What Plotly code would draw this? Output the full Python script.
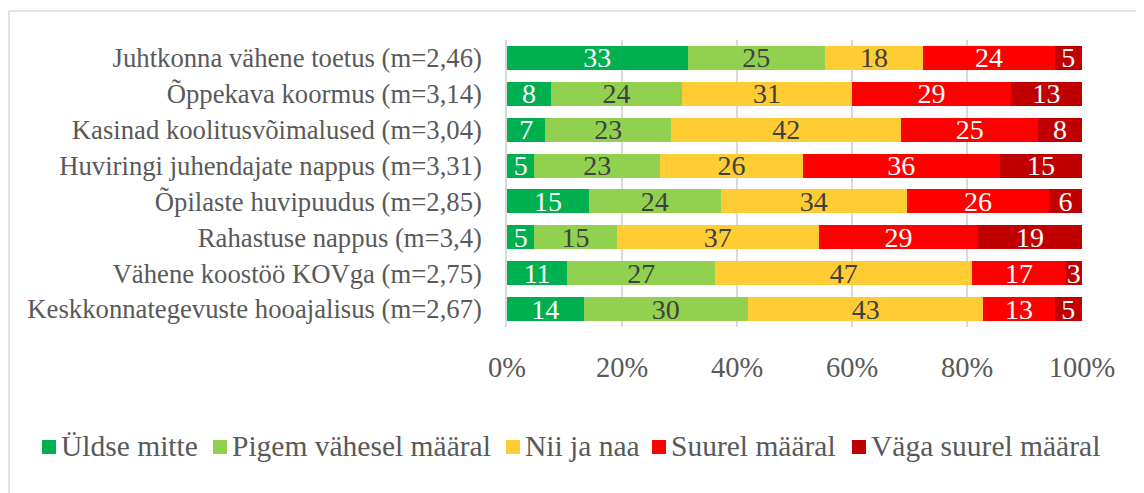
import plotly.graph_objects as go

categories = [
    "Juhtkonna vähene toetus (m=2,46)",
    "Õppekava koormus (m=3,14)",
    "Kasinad koolitusvõimalused (m=3,04)",
    "Huviringi juhendajate nappus (m=3,31)",
    "Õpilaste huvipuudus (m=2,85)",
    "Rahastuse nappus (m=3,4)",
    "Vähene koostöö KOVga (m=2,75)",
    "Keskkonnategevuste hooajalisus (m=2,67)",
]
series_names = ["Üldse mitte", "Pigem vähesel määral", "Nii ja naa", "Suurel määral", "Väga suurel määral"]
uldse_mitte = [33, 8, 7, 5, 15, 5, 11, 14]
pigem_vahesel = [25, 24, 23, 23, 24, 15, 27, 30]
nii_ja_naa = [18, 31, 42, 26, 34, 37, 47, 43]
suurel = [24, 29, 25, 36, 26, 29, 17, 13]
vaga_suurel = [5, 13, 8, 15, 6, 19, 3, 5]
tick_vals = [0, 20, 40, 60, 80, 100]
tick_text = ["0%", "20%", "40%", "60%", "80%", "100%"]

series_values = [uldse_mitte, pigem_vahesel, nii_ja_naa, suurel, vaga_suurel]
colors = ["#00B050", "#92D050", "#FFCC33", "#FF0000", "#C00000"]
text_colors = ["#FFFFFF", "#404040", "#404040", "#FFFFFF", "#FFFFFF"]

FONT = "Liberation Serif"

fig = go.Figure()
for name, vals, col, tcol in zip(series_names, series_values, colors, text_colors):
    fig.add_trace(go.Bar(
        y=categories, x=vals, name=name, orientation="h",
        marker=dict(color=col, line=dict(width=0)),
        text=[str(v) for v in vals], texttemplate="%{text}",
        textposition="inside", insidetextanchor="middle",
        constraintext="none", textangle=0,
        textfont=dict(family=FONT, size=28, color=tcol),
        hoverinfo="skip", showlegend=False,
    ))

OFF = 8  # page body margin
W, H = 1144 - OFF, 493 - OFF
L, T = 507 - OFF, 40 - OFF
R = W - (1082 - OFF)
B = H - (327 - OFF)
pw = W - L - R
ph = H - T - B


def px_x(x):
    return (x - OFF - L) / pw


def px_y(y):
    return (H - B - (y - OFF)) / ph


shapes = [dict(
    type="rect", xref="paper", yref="paper",
    x0=px_x(9), x1=px_x(1144 + 20), y0=px_y(493 + 20), y1=px_y(11),
    line=dict(color="#D9D9D9", width=1.5), fillcolor="rgba(0,0,0,0)",
    layer="below",
)]
annotations = []
# custom legend (marker square + label), laid out like the reference
legend_marker_x = [42, 213, 506, 652, 852]
legend_y = 446
for name, col, mx in zip(series_names, colors, legend_marker_x):
    shapes.append(dict(
        type="rect", xref="paper", yref="paper",
        x0=px_x(mx), x1=px_x(mx + 14), y0=px_y(legend_y + 8), y1=px_y(legend_y - 6),
        line=dict(width=0), fillcolor=col,
    ))
    annotations.append(dict(
        xref="paper", yref="paper", x=px_x(mx + 17), y=px_y(legend_y),
        xanchor="left", yanchor="middle", showarrow=False, text=name,
        font=dict(family=FONT, size=29.5, color="#595959"),
    ))

fig.update_layout(
    barmode="stack", barnorm="percent", bargap=0.33,
    width=W, height=H,
    margin=dict(l=L, r=R, t=T, b=B, pad=0, autoexpand=False),
    paper_bgcolor="white", plot_bgcolor="white",
    font=dict(family=FONT, color="#595959", size=26),
    showlegend=False,
    xaxis=dict(
        range=[0, 100], tickvals=tick_vals, ticktext=tick_text,
        showgrid=True, gridcolor="#D9D9D9", gridwidth=1.5,
        zeroline=False, showline=False, ticks="",
        tickfont=dict(family=FONT, size=28.5, color="#595959"),
        ticklabelstandoff=20, fixedrange=True, automargin=False,
    ),
    yaxis=dict(
        autorange="reversed", showgrid=False, zeroline=False,
        showline=True, linecolor="#D9D9D9", linewidth=1.5,
        ticks="", ticklabelstandoff=18,
        tickfont=dict(family=FONT, size=26.7, color="#595959"),
        fixedrange=True, automargin=False,
    ),
    shapes=shapes,
    annotations=annotations,
)

fig.write_html("out.html")
